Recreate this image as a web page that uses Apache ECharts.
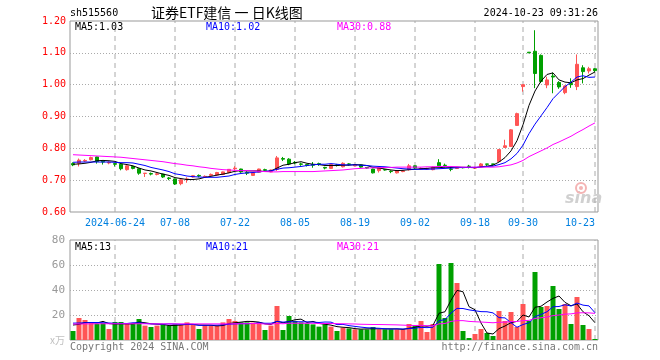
<!DOCTYPE html>
<html><head><meta charset="utf-8">
<script src="https://cdn.jsdelivr.net/npm/echarts@6/dist/echarts.min.js"></script>
<style>html,body{margin:0;padding:0;background:#fff}#c{width:660px;height:360px}</style>
</head><body><div id="c"></div>
<script>
const dates = [
'2024-06-13','2024-06-14','2024-06-17','2024-06-18','2024-06-19','2024-06-20','2024-06-21','2024-06-24','2024-06-25','2024-06-26',
'2024-06-27','2024-06-28','2024-07-01','2024-07-02','2024-07-03','2024-07-04','2024-07-05','2024-07-08','2024-07-09','2024-07-10',
'2024-07-11','2024-07-12','2024-07-15','2024-07-16','2024-07-17','2024-07-18','2024-07-19','2024-07-22','2024-07-23','2024-07-24',
'2024-07-25','2024-07-26','2024-07-29','2024-07-30','2024-07-31','2024-08-01','2024-08-02','2024-08-05','2024-08-06','2024-08-07',
'2024-08-08','2024-08-09','2024-08-12','2024-08-13','2024-08-14','2024-08-15','2024-08-16','2024-08-19','2024-08-20','2024-08-21',
'2024-08-22','2024-08-23','2024-08-26','2024-08-27','2024-08-28','2024-08-29','2024-08-30','2024-09-02','2024-09-03','2024-09-04',
'2024-09-05','2024-09-06','2024-09-09','2024-09-10','2024-09-11','2024-09-12','2024-09-13','2024-09-18','2024-09-19','2024-09-20',
'2024-09-23','2024-09-24','2024-09-25','2024-09-26','2024-09-27','2024-09-30','2024-10-08','2024-10-09','2024-10-10','2024-10-11',
'2024-10-14','2024-10-15','2024-10-16','2024-10-17','2024-10-18','2024-10-21','2024-10-22','2024-10-23'];

const opens = [
.752,.753,.760,.764,.773,.759,.754,.752,.750,.733,
.743,.736,.721,.721,.718,.719,.707,.704,.689,.702,
.710,.715,.710,.715,.716,.718,.724,.736,.735,.724,
.715,.725,.733,.726,.734,.768,.766,.756,.751,.749,
.749,.752,.740,.737,.748,.742,.751,.745,.748,.740,
.735,.730,.733,.728,.723,.727,.733,.745,.735,.735,
.733,.755,.747,.735,.737,.740,.744,.738,.744,.751,
.751,.759,.803,.806,.872,.994,1.102,1.105,1.092,.999,
1.027,1.007,.975,1.004,.994,1.053,1.043,1.050];
const closes = [
.748,.763,.762,.771,.759,.757,.756,.750,.736,.745,
.737,.722,.722,.719,.720,.710,.705,.688,.701,.704,
.714,.713,.712,.718,.724,.726,.734,.738,.726,.722,
.723,.735,.731,.732,.770,.766,.751,.754,.750,.746,
.747,.749,.738,.749,.746,.753,.750,.749,.741,.738,
.723,.739,.732,.727,.730,.729,.745,.738,.737,.736,
.741,.745,.746,.734,.738,.739,.743,.739,.751,.750,
.750,.796,.808,.858,.909,1.000,1.100,1.035,1.010,1.015,
1.024,.993,.996,1.000,1.064,1.041,1.050,1.044];
const lows = [
.744,.743,.757,.762,.752,.749,.750,.743,.731,.730,
.734,.717,.710,.715,.715,.707,.700,.685,.684,.692,
.708,.709,.707,.713,.714,.716,.722,.730,.723,.716,
.713,.724,.728,.725,.729,.760,.747,.750,.745,.743,
.739,.745,.734,.735,.743,.740,.746,.744,.739,.736,
.721,.724,.730,.722,.721,.725,.730,.735,.734,.733,
.731,.741,.740,.728,.735,.737,.737,.735,.742,.745,
.745,.758,.801,.805,.871,.978,1.100,.989,1.005,.989,
.973,.987,.970,.990,.983,1.004,1.035,1.040];
const highs = [
.756,.768,.766,.774,.774,.761,.759,.754,.751,.747,
.745,.737,.722,.724,.724,.720,.710,.705,.703,.709,
.716,.718,.715,.721,.726,.727,.735,.744,.736,.728,
.725,.736,.736,.733,.776,.773,.769,.760,.755,.751,
.757,.755,.742,.750,.751,.756,.753,.751,.749,.741,
.736,.743,.734,.731,.732,.731,.751,.746,.740,.739,
.743,.766,.752,.742,.740,.741,.748,.742,.754,.751,
.751,.798,.827,.860,.912,1.000,1.102,1.171,1.095,1.025,
1.038,1.011,.998,1.020,1.095,1.061,1.056,1.052];

const ma5 = [
.750,.751,.753,.756,.761,.762,.761,.759,.752,.749,
.745,.738,.732,.729,.724,.719,.715,.708,.705,.702,
.702,.704,.709,.712,.716,.719,.723,.728,.730,.729,
.729,.729,.727,.729,.738,.747,.750,.755,.758,.753,
.750,.749,.746,.746,.746,.747,.747,.749,.748,.746,
.740,.738,.735,.732,.730,.731,.733,.734,.736,.737,
.739,.739,.741,.740,.741,.740,.740,.739,.742,.744,
.747,.757,.771,.792,.824,.874,.935,.980,1.011,1.032,
1.037,1.015,1.008,1.006,1.015,1.019,1.030,1.040];
const ma10 = [
.756,.757,.757,.757,.757,.757,.757,.756,.755,.755,
.754,.750,.746,.740,.736,.732,.727,.720,.717,.713,
.711,.710,.709,.709,.709,.711,.713,.718,.721,.723,
.724,.726,.728,.729,.734,.738,.739,.741,.743,.746,
.748,.750,.750,.752,.750,.748,.748,.748,.747,.746,
.744,.743,.742,.740,.738,.736,.735,.734,.734,.734,
.735,.736,.737,.738,.739,.740,.740,.740,.741,.743,
.744,.749,.755,.767,.784,.810,.846,.876,.902,.928,
.956,.975,.994,1.008,1.024,1.028,1.023,1.024];
const ma30 = [
.780,.779,.778,.777,.776,.775,.774,.773,.772,.770,
.768,.766,.764,.762,.760,.758,.755,.752,.750,.747,
.745,.742,.740,.737,.735,.733,.732,.731,.730,.730,
.729,.728,.727,.726,.726,.727,.727,.727,.727,.727,
.727,.728,.729,.730,.731,.732,.734,.736,.737,.738,
.739,.739,.740,.740,.741,.741,.741,.741,.741,.742,
.742,.743,.743,.743,.742,.741,.741,.741,.741,.741,
.741,.742,.745,.748,.754,.762,.774,.783,.792,.801,
.812,.820,.829,.838,.849,.859,.870,.880];

const volumes = [
7.2,17.6,16.0,14.1,13.1,13.6,8.8,14.4,14.4,13.1,
13.3,16.8,11.5,10.4,11.5,12.5,11.5,12.5,12.0,14.1,
12.5,8.8,12.0,11.5,11.5,14.1,16.8,15.2,14.1,14.1,
13.9,14.4,8.0,11.5,27.2,8.0,19.2,15.2,14.1,13.3,
12.5,10.7,12.5,10.7,7.2,9.9,9.3,8.5,8.5,8.5,
10.4,8.5,8.5,8.5,8.5,8.5,12.8,12.0,15.2,6.4,
12.8,60.8,17.6,61.6,45.6,7.2,1.6,4.8,8.8,5.6,
3.2,23.2,15.2,22.4,10.4,28.8,15.2,54.4,26.4,27.2,
43.2,24.8,28.8,12.8,34.4,12.0,8.8,0.8];
const vma5 = [
12.0,12.5,14.0,14.0,13.6,14.9,13.1,12.8,12.9,12.9,
12.8,14.4,13.8,13.0,12.7,12.5,11.5,11.7,12.0,12.5,
12.5,12.0,11.9,11.8,11.3,11.6,13.2,13.8,14.3,14.9,
14.8,14.3,12.9,12.4,15.0,13.8,14.8,16.2,16.7,14.0,
14.9,13.2,12.6,11.9,10.7,10.2,9.9,9.1,8.7,8.9,
9.0,8.9,8.9,8.9,8.9,8.5,9.4,10.1,11.4,11.0,
11.8,21.4,22.6,31.8,39.7,38.6,26.7,24.2,13.6,5.6,
4.8,9.1,11.2,13.9,14.9,20.0,18.4,26.2,27.0,30.4,
33.3,35.2,30.1,27.4,28.8,22.6,19.4,13.8];
const vma10 = [
13.5,13.6,13.8,14.0,14.0,13.8,13.6,13.4,13.3,13.2,
13.8,13.8,13.3,12.9,12.8,12.7,12.9,12.8,12.5,12.6,
12.5,11.7,11.8,11.9,11.9,12.1,12.6,12.9,13.1,13.1,
13.2,13.8,13.4,13.4,14.9,14.3,14.6,14.6,14.6,14.5,
14.3,14.0,14.4,14.3,12.3,12.5,11.5,10.9,10.3,9.8,
9.6,9.4,9.0,8.8,8.9,8.8,9.1,9.5,10.1,9.9,
10.2,15.4,16.3,21.6,25.3,25.2,24.1,23.4,22.7,22.6,
21.7,17.9,17.7,13.8,10.2,12.4,13.8,18.7,20.5,22.6,
26.6,26.8,28.2,27.2,29.6,27.9,27.3,21.8];
const vma30 = [
12.8,12.8,12.9,12.9,13.0,13.0,13.0,13.0,13.0,13.0,
13.0,13.0,13.0,12.9,12.9,12.9,12.9,12.9,12.9,12.9,
12.9,12.9,12.9,12.9,12.9,12.9,12.9,13.0,13.0,13.0,
13.2,13.1,12.8,12.7,13.2,13.0,13.4,13.4,13.4,13.4,
13.4,13.2,13.2,13.2,13.1,13.0,12.9,12.8,12.6,12.5,
12.4,12.4,12.3,12.2,12.1,11.9,11.7,11.6,11.7,11.4,
11.4,12.9,13.2,14.9,15.5,15.5,14.9,14.6,14.4,14.1,
13.8,14.2,14.3,14.7,14.8,15.5,15.7,17.2,17.8,18.4,
19.5,20.0,20.7,20.9,21.7,21.8,21.7,21.3];

const tickDates = ['2024-06-24','2024-07-08','2024-07-22','2024-08-05','2024-08-19','2024-09-02','2024-09-18','2024-09-30','2024-10-23'];
const tickLabels = ['2024-06-24','07-08','07-22','08-05','08-19','09-02','09-18','09-30','10-23'];
const priceMALabels = ['MA5:1.03','MA10:1.02','MA30:0.88'];
const volMALabels = ['MA5:13','MA10:21','MA30:21'];
const headerTexts = ['sh515560','证券ETF建信 一 日K线图','2024-10-23 09:31:26'];
const footerTexts = ['Copyright 2024 SINA.COM','http://finance.sina.com.cn'];

const arrs = {dates,opens,closes,lows,highs,ma5,ma10,ma30,volumes,vma5,vma10,vma30};
for (const k in arrs) if (arrs[k].length !== 88) throw new Error('length ' + k + ' ' + arrs[k].length);

const MONO = '"DejaVu Sans Mono", monospace';
const UP = '#ff5555', DOWN = '#00a000';
const MA_COLORS = ['#000000', '#0000ff', '#ff00ff'];
const candleData = opens.map((o, i) => [o, closes[i], lows[i], highs[i]]);
const volData = volumes.map((v, i) => ({value: v, itemStyle: {color: closes[i] >= opens[i] ? UP : DOWN}}));
const tickIdx = tickDates.map(d => dates.indexOf(d));

// vertical dashed guide lines, drawn as a line series per tick date spanning the full value range
function guideSeries(xi, lo, hi) {
  return tickIdx.map(idx => ({
    type: 'line', xAxisIndex: xi, yAxisIndex: xi, silent: true, animation: false, z: 1,
    showSymbol: false, symbol: 'none', clip: true,
    lineStyle: {color: '#aaaaaa', type: [5, 4], width: 1},
    data: [[idx, lo], [idx, hi]]
  }));
}
function maLine(name, data, color, xi) {
  return {name, type: 'line', xAxisIndex: xi, yAxisIndex: xi, data, showSymbol: false, symbol: 'none',
    silent: true, lineStyle: {color, width: 1}, z: 3, animation: false};
}
function txt(text, x, y, fill, align, font) {
  return {type: 'text', silent: true, z: 10, style: {text, x, y, fill, align, textAlign: align,
    verticalAlign: 'middle', textVerticalAlign: 'middle', font: font || ('10px ' + MONO)}};
}

const chart = echarts.init(document.getElementById('c'), null, {renderer: 'canvas'});
chart.setOption({
  animation: false,
  backgroundColor: '#ffffff',
  grid: [
    {left: 70, top: 21, width: 528, height: 191, show: true, borderColor: '#999', borderWidth: 1, backgroundColor: 'transparent'},
    {left: 70, top: 240, width: 528, height: 100, show: true, borderColor: '#999', borderWidth: 1, backgroundColor: 'transparent'}
  ],
  xAxis: [
    {type: 'category', gridIndex: 0, data: dates, boundaryGap: true,
      axisLine: {show: false}, axisTick: {show: false}, splitLine: {show: false},
      axisLabel: {interval: (i, v) => tickDates.includes(v), formatter: v => tickLabels[tickDates.indexOf(v)],
        color: '#0080e0', fontFamily: MONO, fontSize: 10, margin: 6, alignMaxLabel: 'right'}},
    {type: 'category', gridIndex: 1, data: dates, boundaryGap: true,
      axisLine: {show: false}, axisTick: {show: false}, splitLine: {show: false}, axisLabel: {show: false}}
  ],
  yAxis: [
    {type: 'value', gridIndex: 0, min: 0.6, max: 1.2, interval: 0.1,
      axisLine: {show: false}, axisTick: {show: false},
      axisLabel: {formatter: v => v.toFixed(2), color: '#ff0000', fontFamily: MONO, fontSize: 10, margin: 4},
      splitLine: {show: true, showMinLine: false, showMaxLine: false, lineStyle: {color: '#aaaaaa', type: [1, 2]}}},
    {type: 'value', gridIndex: 1, min: 0, max: 80, interval: 20,
      axisLine: {show: false}, axisTick: {show: false},
      axisLabel: {formatter: v => v === 0 ? '{u|x万}' : String(v), color: '#999999', fontFamily: MONO, fontSize: 11, margin: 5,
        rich: {u: {color: '#c0c0c0', fontFamily: '"Noto Sans CJK SC", sans-serif', fontSize: 10}}},
      splitLine: {show: true, showMinLine: false, showMaxLine: false, lineStyle: {color: '#aaaaaa', type: [1, 2]}}}
  ],
  series: [
    ...guideSeries(0, 0.6, 1.2),
    ...guideSeries(1, 0, 80),
    {name: 'K', type: 'candlestick', xAxisIndex: 0, yAxisIndex: 0, data: candleData, barWidth: 4, silent: true,
      itemStyle: {color: UP, color0: DOWN, borderColor: UP, borderColor0: DOWN, borderWidth: 1}, z: 2},
    maLine('MA5', ma5, MA_COLORS[0], 0),
    maLine('MA10', ma10, MA_COLORS[1], 0),
    maLine('MA30', ma30, MA_COLORS[2], 0),
    {name: 'VOL', type: 'bar', xAxisIndex: 1, yAxisIndex: 1, data: volData, barWidth: 5, silent: true, z: 2},
    maLine('VMA5', vma5, MA_COLORS[0], 1),
    maLine('VMA10', vma10, MA_COLORS[1], 1),
    maLine('VMA30', vma30, MA_COLORS[2], 1)
  ],
  graphic: [
    {type: 'text', silent: true, z: 0, style: {text: 'sina', x: 565, y: 199, fill: '#d0d0d0', align: 'left', textAlign: 'left',
      verticalAlign: 'middle', textVerticalAlign: 'middle', font: 'italic bold 16px "DejaVu Sans", sans-serif'}},
    {type: 'circle', silent: true, z: 0, shape: {cx: 581, cy: 188, r: 5}, style: {fill: 'none', stroke: '#f4b4b4', lineWidth: 2}},
    {type: 'circle', silent: true, z: 0, shape: {cx: 581, cy: 188, r: 2}, style: {fill: '#f4b4b4'}},
    txt(headerTexts[0], 70, 13, '#000', 'left'),
    txt(headerTexts[1], 151, 13, '#000', 'left', '14px "Noto Sans CJK SC", sans-serif'),
    txt(headerTexts[2], 598, 13, '#000', 'right'),
    txt(priceMALabels[0], 75, 27, MA_COLORS[0], 'left'),
    txt(priceMALabels[1], 206, 27, MA_COLORS[1], 'left'),
    txt(priceMALabels[2], 337, 27, MA_COLORS[2], 'left'),
    txt(volMALabels[0], 75, 247, MA_COLORS[0], 'left'),
    txt(volMALabels[1], 206, 247, MA_COLORS[1], 'left'),
    txt(volMALabels[2], 337, 247, MA_COLORS[2], 'left'),
    txt(footerTexts[0], 70, 347, '#777', 'left'),
    txt(footerTexts[1], 598, 347, '#777', 'right')
  ]
});
</script></body></html>
